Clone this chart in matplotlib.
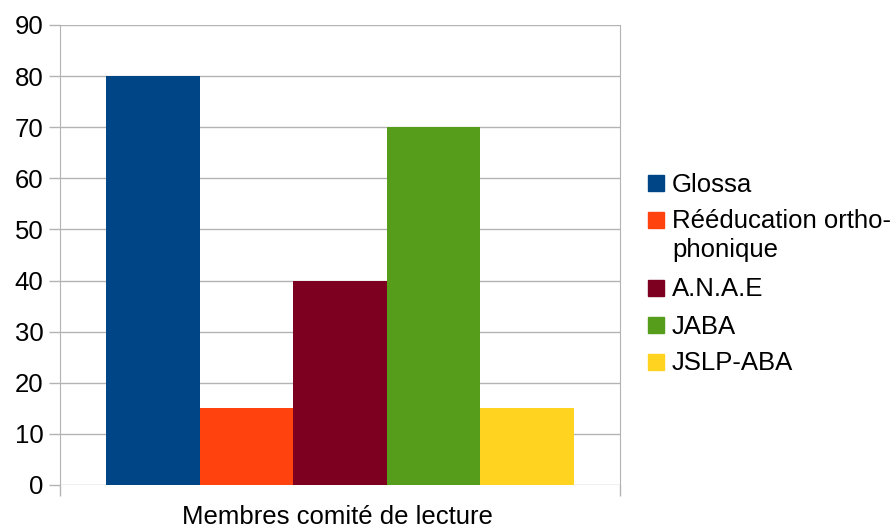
import matplotlib
matplotlib.use("Agg")
import matplotlib.pyplot as plt
from matplotlib.patches import Rectangle

plt.rcParams['font.family'] = ['Liberation Sans', 'DejaVu Sans']

# data
category = "Membres comité de lecture"
series = ["Glossa", "Rééducation ortho-\nphonique", "A.N.A.E", "JABA", "JSLP-ABA"]
values = [80, 15, 40, 70, 15]
colors = ["#004586", "#ff420e", "#7e0021", "#579d1c", "#ffd320"]
yticks = list(range(0, 100, 10))

W, H = 892, 529
FS = 18.5
fig = plt.figure(figsize=(W / 100, H / 100), dpi=100)
ax = fig.add_axes([60 / W, 1 - 485 / H, 560 / W, 460 / H])

grid_c = "#b3b3b3"
group = 0.836
w = group / len(values)
for i, (v, c) in enumerate(zip(values, colors)):
    ax.bar(-group / 2 + w * (i + 0.5), v, width=w, color=c, zorder=3)

ax.set_xlim(-0.5, 0.5)
ax.set_ylim(0, 90)
ax.set_yticks(yticks)
ax.yaxis.grid(True, color=grid_c, linewidth=1, zorder=0)
ax.set_xticks([-0.5, 0.5])
ax.set_xticklabels(["", ""])
ax.tick_params(axis="both", direction="out", length=8, width=1, color=grid_c,
               labelsize=FS, labelcolor="black", pad=4)
for s in ["left", "right", "bottom"]:
    ax.spines[s].set_color(grid_c)
ax.spines["top"].set_visible(False)
ax.spines["bottom"].set_visible(False)

fig.text(337 / W, 1 - 517 / H, category, ha="center", va="center", fontsize=FS)

# legend, drawn by hand so the square sits on the first line
rows_y = [183, 220, 288, 325, 362]
for y, lab, c in zip(rows_y, series, colors):
    fig.add_artist(Rectangle((648 / W, 1 - (y + 8) / H), 16 / W, 16 / H,
                             transform=fig.transFigure, color=c))
    for k, line in enumerate(lab.split("\n")):
        fig.text(672 / W, 1 - (y + 8.5 + 28 * k) / H, line, ha="left",
                 va="baseline", fontsize=FS)

fig.savefig("out.png", dpi=100)
